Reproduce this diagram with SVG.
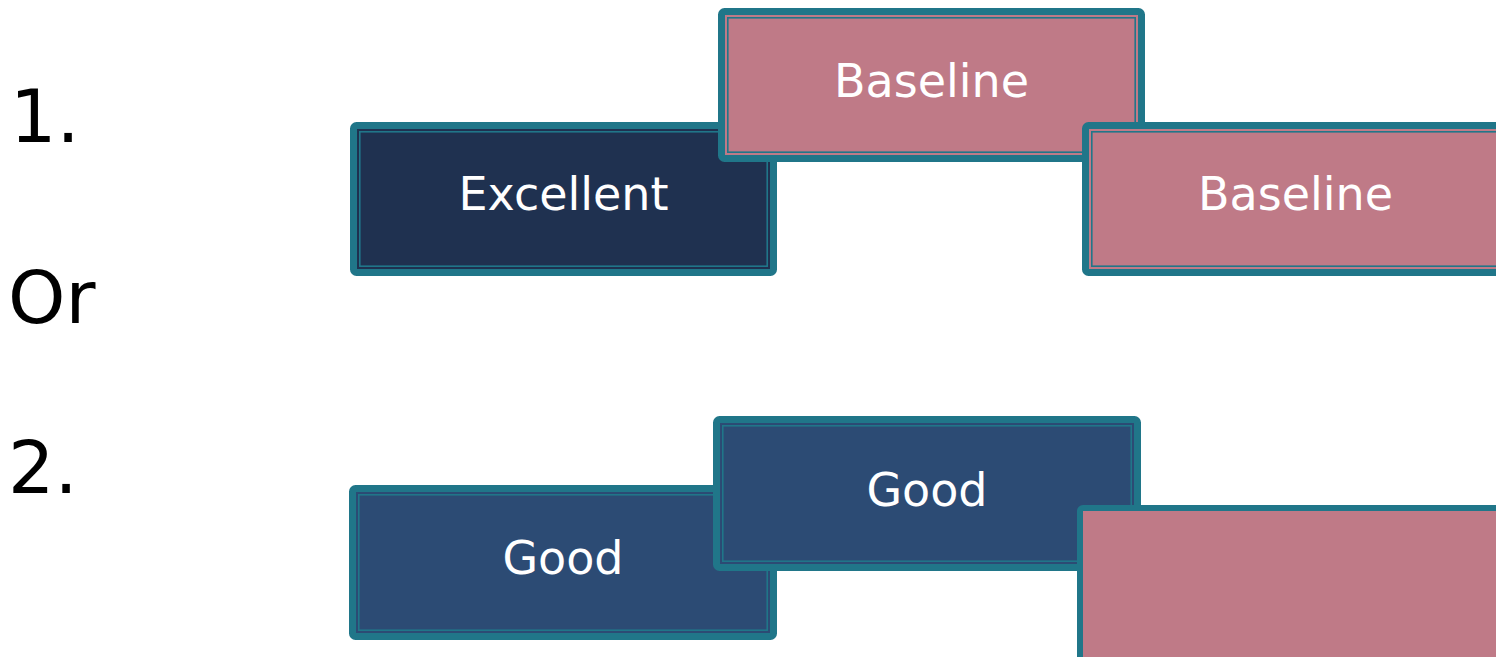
<svg xmlns="http://www.w3.org/2000/svg" width="1496" height="657" viewBox="0 0 1496 657">
<style>
.outer{stroke:#207689;stroke-width:7}
.inner{fill:none;stroke:#207689;stroke-width:1.6}
.navy{fill:#1F3150}
.blue{fill:#2C4B74}
.pink{fill:#BF7A87}
.lbl{font-family:"DejaVu Sans","Liberation Sans",sans-serif;font-size:46px;fill:#FFFFFF;text-anchor:middle}
.num{font-family:"DejaVu Sans","Liberation Sans",sans-serif;font-size:73px;fill:#000000}
</style>
<rect width="1496" height="657" fill="#FFFFFF"/>
<g id="labels">
<text class="num" x="10" y="142">1.</text>
<text class="num" x="8" y="323">Or</text>
<text class="num" x="8" y="493">2.</text>
</g>
<g id="excellent">
<rect class="outer navy" x="353.5" y="125.5" width="420" height="147" rx="3"/>
<rect class="inner" x="359.8" y="131.8" width="407.4" height="134.4"/>
<text class="lbl" x="563.5" y="210">Excellent</text>
</g>
<g id="baseline-top">
<rect class="outer pink" x="721.5" y="11.5" width="420" height="147" rx="3"/>
<rect class="inner" x="727.8" y="17.8" width="407.4" height="134.4"/>
<text class="lbl" x="931.5" y="97">Baseline</text>
</g>
<g id="baseline-right">
<rect class="outer pink" x="1085.5" y="125.5" width="420" height="147" rx="3"/>
<rect class="inner" x="1091.8" y="131.8" width="407.4" height="134.4"/>
<text class="lbl" x="1295.5" y="210">Baseline</text>
</g>
<g id="good-left">
<rect class="outer blue" x="352.5" y="488.5" width="421" height="148" rx="3"/>
<rect class="inner" x="358.8" y="494.8" width="408.4" height="135.4"/>
<text class="lbl" x="563" y="574">Good</text>
</g>
<g id="good-mid">
<rect class="outer blue" x="716.5" y="419.5" width="421" height="148" rx="3"/>
<rect class="inner" x="722.8" y="425.8" width="408.4" height="135.4"/>
<text class="lbl" x="927" y="506">Good</text>
</g>
<g id="pink-bottom">
<rect class="outer pink" x="1080" y="508" width="430" height="160" rx="3" style="stroke-width:6"/>
</g>
<g id="connectors"></g>
</svg>
